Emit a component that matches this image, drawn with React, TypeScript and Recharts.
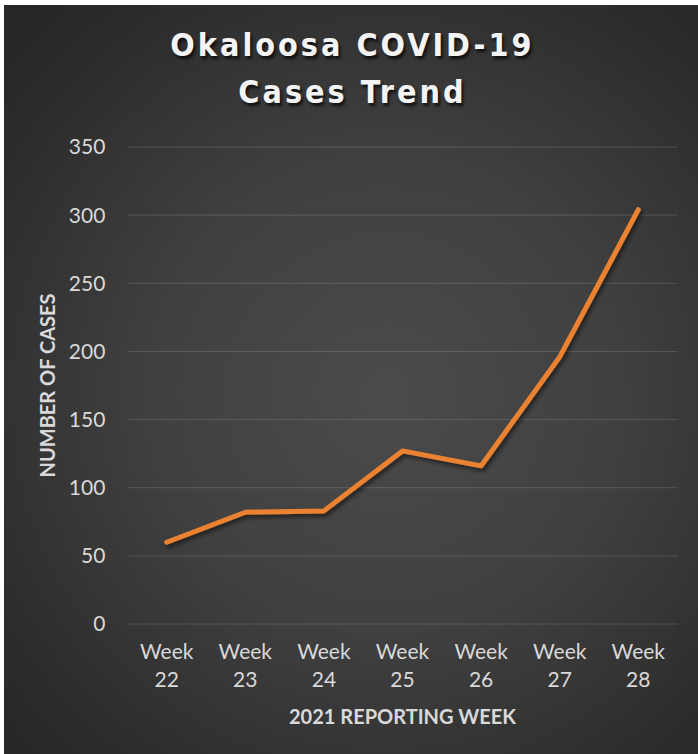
import React from 'react'
import {
  LineChart,
  Line,
  XAxis,
  YAxis,
  CartesianGrid,
  Label,
} from 'recharts'

const WEEKS = ['Week 22', 'Week 23', 'Week 24', 'Week 25', 'Week 26', 'Week 27', 'Week 28']
const CASES = [60, 82, 83, 127, 116, 196, 304]
const CASE_TICKS = [0, 50, 100, 150, 200, 250, 300, 350]

const TITLE_LINES = ['Okaloosa COVID-19', 'Cases Trend']

const data = WEEKS.map((week, i) => ({ week, cases: CASES[i] }))

const LABEL_FONT = 'Lato, "Open Sans", sans-serif'
const LABEL_COLOR = '#d9d9d9'

const PLOT_WIDTH = 550.2
// half a category band on each side, so points sit in the middle of their slots
const EDGE_PAD = PLOT_WIDTH / (WEEKS.length * 2)

interface TickProps {
  x?: number
  y?: number
  payload?: { value: string }
}

// two-line category tick: "Week" over the number
function WeekTick({ x = 0, y = 0, payload }: TickProps) {
  const [word, num] = String(payload?.value ?? '').split(' ')
  return (
    <text x={x} y={y} textAnchor="middle" fill={LABEL_COLOR} fontFamily={LABEL_FONT} fontSize={21}>
      <tspan x={x} dy={35}>{word}</tspan>
      <tspan x={x} dy={28}>{num}</tspan>
    </text>
  )
}

interface ViewBoxProps {
  viewBox?: { x: number; y: number; width: number; height: number }
}

function YTitle({ viewBox }: ViewBoxProps) {
  if (!viewBox) return null
  const cx = viewBox.x
  const cy = viewBox.y + viewBox.height / 2
  return (
    <text
      x={cx}
      y={cy}
      transform={`rotate(-90 ${cx} ${cy})`}
      textAnchor="middle"
      dominantBaseline="central"
      fill={LABEL_COLOR}
      fontFamily={LABEL_FONT}
      fontWeight="bold"
      fontSize={20}
    >
      NUMBER OF CASES
    </text>
  )
}

function XTitle({ viewBox }: ViewBoxProps) {
  if (!viewBox) return null
  return (
    <text
      x={viewBox.x + viewBox.width / 2}
      y={viewBox.y + 92}
      textAnchor="middle"
      dominantBaseline="central"
      fill={LABEL_COLOR}
      fontFamily={LABEL_FONT}
      fontWeight="bold"
      fontSize={20}
    >
      2021 REPORTING WEEK
    </text>
  )
}

export default function App() {
  return (
    <div
      style={{
        position: 'absolute',
        left: 0,
        top: 0,
        width: 698,
        height: 754,
        background: '#ffffff',
        overflow: 'hidden',
      }}
    >
      {/* dark chart panel, white edge shows on top and left */}
      <div
        style={{
          position: 'absolute',
          left: 4,
          top: 5,
          right: 0,
          bottom: 0,
          background:
            'radial-gradient(ellipse 75% 70% at 55% 52%, #4b4b4b 0%, #404040 45%, #2c2c2c 85%, #262626 100%)',
        }}
      />

      <div
        style={{
          position: 'absolute',
          left: 4,
          right: 0,
          top: 22,
          textAlign: 'center',
          fontFamily: '"DejaVu Sans Condensed", "Liberation Sans Narrow", sans-serif',
          fontWeight: 'bold',
          fontSize: 32,
          lineHeight: '47px',
          letterSpacing: 3,
          paddingLeft: 3,
          color: '#f4f4f4',
          textShadow: '2px 3px 3px rgba(0,0,0,0.7)',
        }}
      >
        {TITLE_LINES.map(line => (
          <div key={line}>{line}</div>
        ))}
      </div>

      <div style={{ position: 'absolute', left: 0, top: 0 }}>
        <LineChart
          width={698}
          height={754}
          data={data}
          margin={{ top: 147, right: 20.4, bottom: 30, left: 47.4 }}
        >
          <defs>
            <filter id="lineShadow" x="-10%" y="-10%" width="120%" height="130%">
              <feDropShadow dx="2" dy="3" stdDeviation="2" floodColor="#000" floodOpacity="0.55" />
            </filter>
          </defs>
          <CartesianGrid vertical={false} stroke="rgba(255,255,255,0.14)" strokeWidth={1} />
          <XAxis
            dataKey="week"
            height={100}
            axisLine={false}
            tickLine={false}
            tickSize={0}
            tickMargin={0}
            interval={0}
            padding={{ left: EDGE_PAD, right: EDGE_PAD }}
            tick={<WeekTick />}
          >
            <Label content={<XTitle />} />
          </XAxis>
          <YAxis
            width={80}
            domain={[0, 350]}
            ticks={CASE_TICKS}
            axisLine={false}
            tickLine={false}
            tickSize={0}
            tickMargin={22}
            tick={{ fill: LABEL_COLOR, fontFamily: LABEL_FONT, fontSize: 21 }}
          >
            <Label content={<YTitle />} />
          </YAxis>
          <Line
            type="linear"
            dataKey="cases"
            stroke="#ea8230"
            strokeWidth={5}
            strokeLinecap="round"
            strokeLinejoin="round"
            dot={false}
            activeDot={false}
            filter="url(#lineShadow)"
            isAnimationActive={false}
          />
        </LineChart>
      </div>
    </div>
  )
}
